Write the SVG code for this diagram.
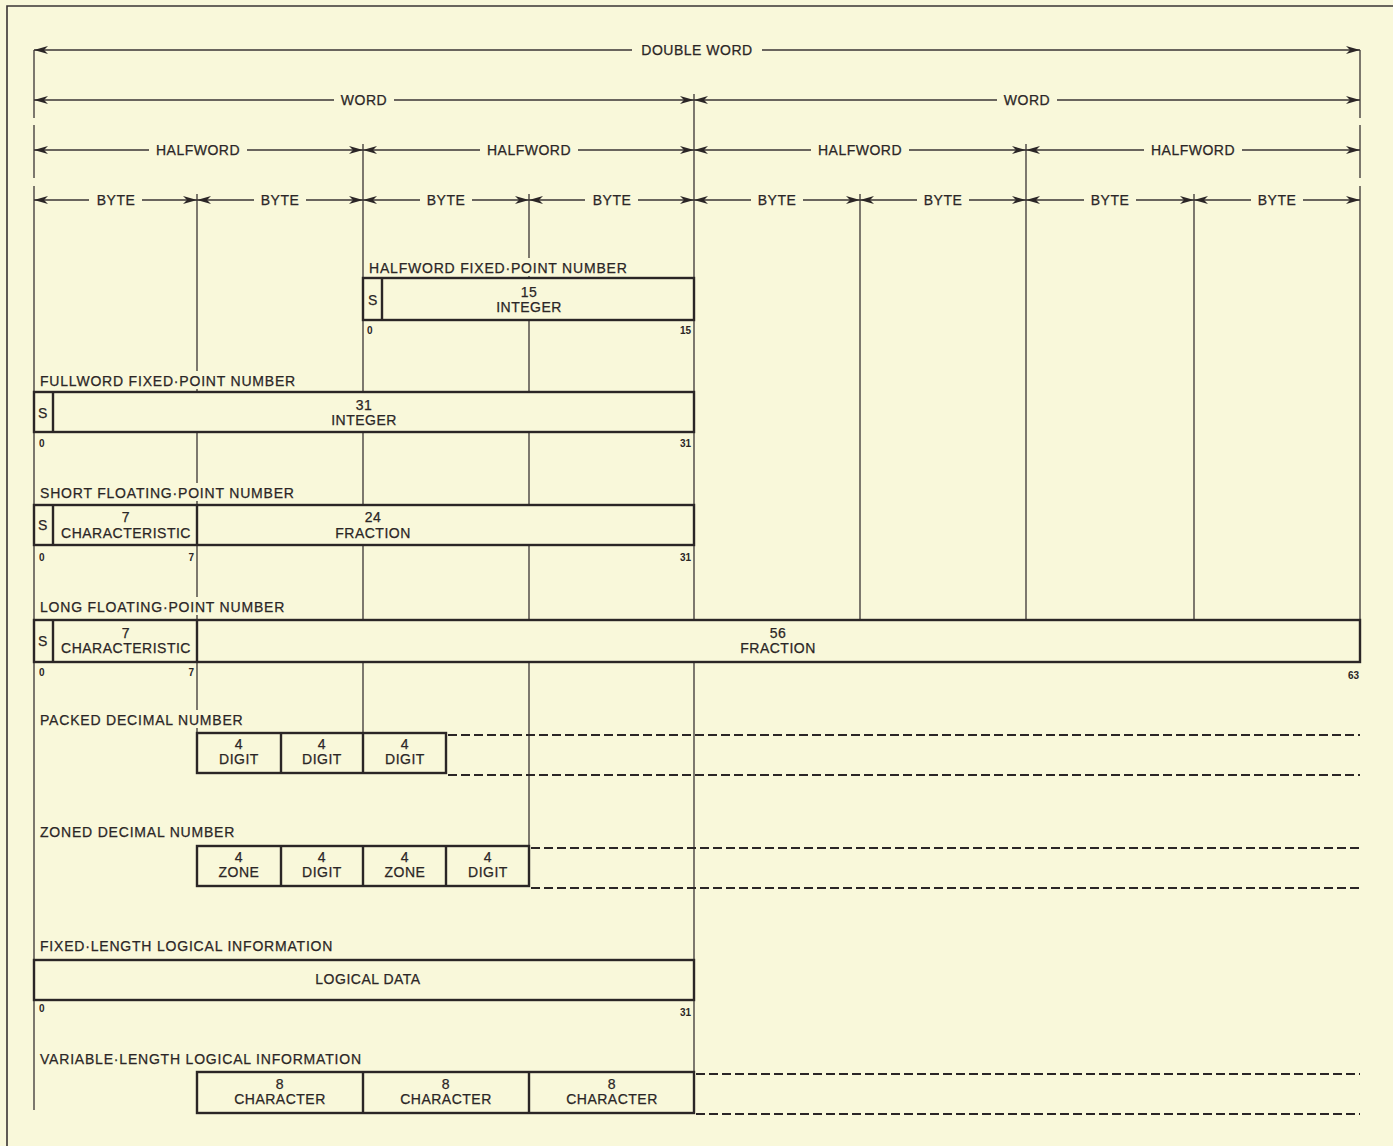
<svg xmlns="http://www.w3.org/2000/svg" width="1393" height="1146" viewBox="0 0 1393 1146">
<style>
.t{font-family:"Liberation Sans",Arial,sans-serif;font-size:14px;letter-spacing:0.5px;fill:#2b2626;stroke:#2b2626;stroke-width:0.25}
.l{letter-spacing:0.8px}
.c{text-anchor:middle}
.e{text-anchor:end}
.n{font-family:"Liberation Sans",Arial,sans-serif;font-size:10px;font-weight:bold;fill:#2b2626}
.g{stroke:#3a3434;stroke-width:1.3;fill:none}
.a{stroke:#3a3434;stroke-width:1.6;fill:none}
.s{marker-start:url(#ah)}
.m{marker-end:url(#ah)}
.box{fill:#f9f8da;stroke:#2b2626;stroke-width:2.4}
.bg{fill:#f9f8da}
.d{stroke:#2b2626;stroke-width:2;stroke-dasharray:9 4;fill:none}
</style>
<defs>
<marker id="ah" viewBox="0 0 14 8" refX="14" refY="4" markerWidth="14" markerHeight="8" markerUnits="userSpaceOnUse" orient="auto-start-reverse">
<path d="M0,0 L14,4 L0,8 L4,4 z" fill="#2b2626"/>
</marker>
</defs>
<rect width="1393" height="1146" fill="#f9f8da"/>
<path d="M7,1146 V6 H1393" fill="none" stroke="#3a3434" stroke-width="1.6"/>

<g id="guides">
<path class="g" d="M34,50 V118 M34,125 V178 M34,186 V1110"/>
<path class="g" d="M1360,50 V118 M1360,125 V178 M1360,186 V620"/>
<path class="g" d="M694,94 V1113"/>
<path class="g" d="M363,144 V733"/>
<path class="g" d="M1026,144 V620"/>
<path class="g" d="M197,194 V733"/>
<path class="g" d="M529,194 V846"/>
<path class="g" d="M860,194 V620"/>
<path class="g" d="M1194,194 V620"/>
</g>

<g id="connectors">
<line class="a s" x1="34" y1="50" x2="632" y2="50"/>
<line class="a m" x1="762" y1="50" x2="1360" y2="50"/>
<line class="a s" x1="34" y1="100" x2="334" y2="100"/>
<line class="a m" x1="394" y1="100" x2="694" y2="100"/>
<line class="a s" x1="694" y1="100" x2="997" y2="100"/>
<line class="a m" x1="1057" y1="100" x2="1360" y2="100"/>
<line class="a s" x1="34" y1="150" x2="149" y2="150"/>
<line class="a m" x1="247" y1="150" x2="363" y2="150"/>
<line class="a s" x1="363" y1="150" x2="480" y2="150"/>
<line class="a m" x1="578" y1="150" x2="694" y2="150"/>
<line class="a s" x1="694" y1="150" x2="811" y2="150"/>
<line class="a m" x1="909" y1="150" x2="1026" y2="150"/>
<line class="a s" x1="1026" y1="150" x2="1144" y2="150"/>
<line class="a m" x1="1242" y1="150" x2="1360" y2="150"/>
<line class="a s" x1="34" y1="200" x2="89" y2="200"/>
<line class="a m" x1="142" y1="200" x2="197" y2="200"/>
<line class="a s" x1="197" y1="200" x2="254" y2="200"/>
<line class="a m" x1="306" y1="200" x2="363" y2="200"/>
<line class="a s" x1="363" y1="200" x2="420" y2="200"/>
<line class="a m" x1="472" y1="200" x2="529" y2="200"/>
<line class="a s" x1="529" y1="200" x2="585" y2="200"/>
<line class="a m" x1="638" y1="200" x2="694" y2="200"/>
<line class="a s" x1="694" y1="200" x2="751" y2="200"/>
<line class="a m" x1="803" y1="200" x2="860" y2="200"/>
<line class="a s" x1="860" y1="200" x2="917" y2="200"/>
<line class="a m" x1="969" y1="200" x2="1026" y2="200"/>
<line class="a s" x1="1026" y1="200" x2="1084" y2="200"/>
<line class="a m" x1="1136" y1="200" x2="1194" y2="200"/>
<line class="a s" x1="1194" y1="200" x2="1251" y2="200"/>
<line class="a m" x1="1303" y1="200" x2="1360" y2="200"/>
</g>

<g id="scale-labels">
<text class="t c" x="697" y="55">DOUBLE WORD</text>
<text class="t c" x="364" y="105">WORD</text>
<text class="t c" x="1027" y="105">WORD</text>
<text class="t c" x="198" y="155">HALFWORD</text>
<text class="t c" x="529" y="155">HALFWORD</text>
<text class="t c" x="860" y="155">HALFWORD</text>
<text class="t c" x="1193" y="155">HALFWORD</text>
<text class="t c" x="116" y="205">BYTE</text>
<text class="t c" x="280" y="205">BYTE</text>
<text class="t c" x="446" y="205">BYTE</text>
<text class="t c" x="612" y="205">BYTE</text>
<text class="t c" x="777" y="205">BYTE</text>
<text class="t c" x="943" y="205">BYTE</text>
<text class="t c" x="1110" y="205">BYTE</text>
<text class="t c" x="1277" y="205">BYTE</text>
</g>

<g id="halfword-fixed">
<rect class="bg" x="366" y="258" width="268" height="18"/>
<text class="t l" x="369" y="273">HALFWORD FIXED·POINT NUMBER</text>
<rect class="box" x="363" y="278" width="331" height="42"/>
<line class="box" x1="382" y1="278" x2="382" y2="320"/>
<text class="t c" x="373" y="305">S</text>
<text class="t c" x="529" y="297">15</text>
<text class="t c" x="529" y="312">INTEGER</text>
<text class="n" x="367" y="334">0</text>
<text class="n e" x="691" y="334">15</text>
</g>

<g id="fullword-fixed">
<rect class="bg" x="37" y="371" width="268" height="18"/>
<text class="t l" x="40" y="386">FULLWORD FIXED·POINT NUMBER</text>
<rect class="box" x="34" y="392" width="660" height="40"/>
<line class="box" x1="53" y1="392" x2="53" y2="432"/>
<text class="t c" x="43" y="418">S</text>
<text class="t c" x="364" y="410">31</text>
<text class="t c" x="364" y="425">INTEGER</text>
<text class="n" x="39" y="447">0</text>
<text class="n e" x="691" y="447">31</text>
</g>

<g id="short-float">
<rect class="bg" x="37" y="483" width="268" height="18"/>
<text class="t l" x="40" y="498">SHORT FLOATING·POINT NUMBER</text>
<rect class="box" x="34" y="505" width="660" height="40"/>
<line class="box" x1="53" y1="505" x2="53" y2="545"/>
<line class="box" x1="197" y1="505" x2="197" y2="545"/>
<text class="t c" x="43" y="530">S</text>
<text class="t c" x="126" y="522">7</text>
<text class="t c" x="126" y="538">CHARACTERISTIC</text>
<text class="t c" x="373" y="522">24</text>
<text class="t c" x="373" y="538">FRACTION</text>
<text class="n" x="39" y="561">0</text>
<text class="n e" x="194" y="561">7</text>
<text class="n e" x="691" y="561">31</text>
</g>

<g id="long-float">
<rect class="bg" x="37" y="597" width="258" height="18"/>
<text class="t l" x="40" y="612">LONG FLOATING·POINT NUMBER</text>
<rect class="box" x="34" y="620" width="1326" height="42"/>
<line class="box" x1="53" y1="620" x2="53" y2="662"/>
<line class="box" x1="197" y1="620" x2="197" y2="662"/>
<text class="t c" x="43" y="646">S</text>
<text class="t c" x="126" y="638">7</text>
<text class="t c" x="126" y="653">CHARACTERISTIC</text>
<text class="t c" x="778" y="638">56</text>
<text class="t c" x="778" y="653">FRACTION</text>
<text class="n" x="39" y="676">0</text>
<text class="n e" x="194" y="676">7</text>
<text class="n e" x="1359" y="679">63</text>
</g>

<g id="packed-decimal">
<rect class="bg" x="37" y="710" width="218" height="18"/>
<text class="t l" x="40" y="725">PACKED DECIMAL NUMBER</text>
<rect class="box" x="197" y="733" width="249" height="40"/>
<line class="box" x1="281" y1="733" x2="281" y2="773"/>
<line class="box" x1="363" y1="733" x2="363" y2="773"/>
<text class="t c" x="239" y="749">4</text>
<text class="t c" x="239" y="764">DIGIT</text>
<text class="t c" x="322" y="749">4</text>
<text class="t c" x="322" y="764">DIGIT</text>
<text class="t c" x="405" y="749">4</text>
<text class="t c" x="405" y="764">DIGIT</text>
<line class="d" x1="448" y1="735" x2="1360" y2="735"/>
<line class="d" x1="448" y1="775" x2="1360" y2="775"/>
</g>

<g id="zoned-decimal">
<rect class="bg" x="37" y="822" width="210" height="18"/>
<text class="t l" x="40" y="837">ZONED DECIMAL NUMBER</text>
<rect class="box" x="197" y="846" width="332" height="40"/>
<line class="box" x1="281" y1="846" x2="281" y2="886"/>
<line class="box" x1="363" y1="846" x2="363" y2="886"/>
<line class="box" x1="446" y1="846" x2="446" y2="886"/>
<text class="t c" x="239" y="862">4</text>
<text class="t c" x="239" y="877">ZONE</text>
<text class="t c" x="322" y="862">4</text>
<text class="t c" x="322" y="877">DIGIT</text>
<text class="t c" x="405" y="862">4</text>
<text class="t c" x="405" y="877">ZONE</text>
<text class="t c" x="488" y="862">4</text>
<text class="t c" x="488" y="877">DIGIT</text>
<line class="d" x1="531" y1="848" x2="1360" y2="848"/>
<line class="d" x1="531" y1="888" x2="1360" y2="888"/>
</g>

<g id="fixed-logical">
<rect class="bg" x="37" y="936" width="310" height="18"/>
<text class="t l" x="40" y="951">FIXED·LENGTH LOGICAL INFORMATION</text>
<rect class="box" x="34" y="960" width="660" height="40"/>
<text class="t c" x="368" y="984">LOGICAL DATA</text>
<text class="n" x="39" y="1012">0</text>
<text class="n e" x="691" y="1016">31</text>
</g>

<g id="variable-logical">
<rect class="bg" x="37" y="1049" width="340" height="18"/>
<text class="t l" x="40" y="1064">VARIABLE·LENGTH LOGICAL INFORMATION</text>
<rect class="box" x="197" y="1072" width="497" height="41"/>
<line class="box" x1="363" y1="1072" x2="363" y2="1113"/>
<line class="box" x1="529" y1="1072" x2="529" y2="1113"/>
<text class="t c" x="280" y="1089">8</text>
<text class="t c" x="280" y="1104">CHARACTER</text>
<text class="t c" x="446" y="1089">8</text>
<text class="t c" x="446" y="1104">CHARACTER</text>
<text class="t c" x="612" y="1089">8</text>
<text class="t c" x="612" y="1104">CHARACTER</text>
<line class="d" x1="696" y1="1074" x2="1360" y2="1074"/>
<line class="d" x1="696" y1="1114" x2="1360" y2="1114"/>
</g>
</svg>
